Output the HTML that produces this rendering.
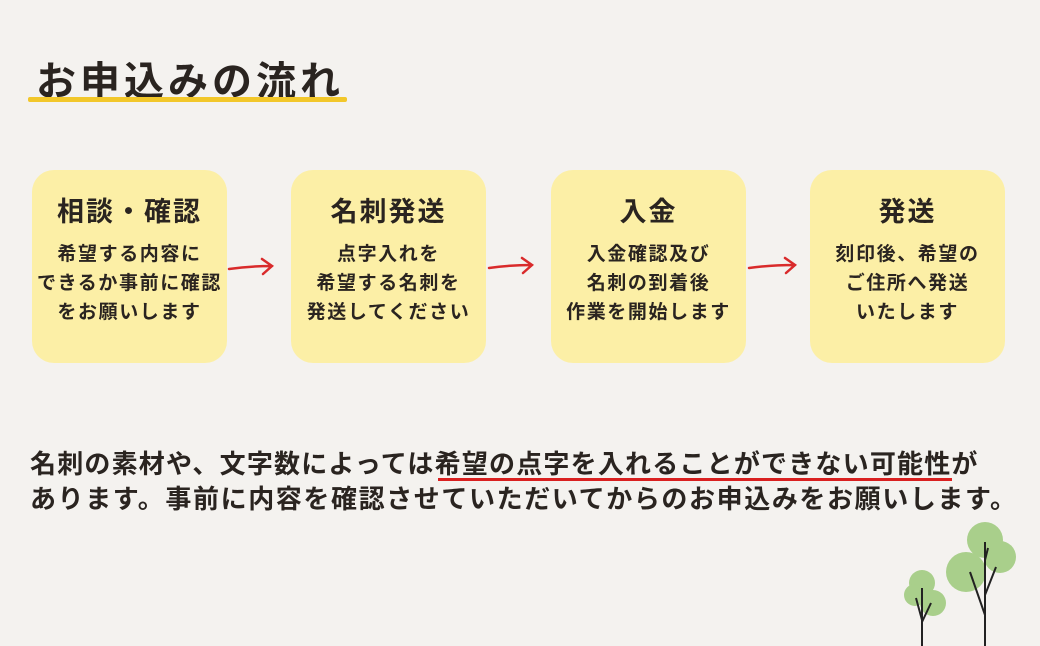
<!DOCTYPE html>
<html><head><meta charset="utf-8"><style>
body{margin:0;width:1040px;height:646px;background:#f4f2ef;position:relative;overflow:hidden;font-family:"Liberation Sans","Noto Sans CJK JP",sans-serif;color:#2a2420;font-weight:bold}
.t{position:absolute;left:36px;top:49px;font-size:40px;letter-spacing:4px;white-space:nowrap}
.ul{position:absolute;left:28px;top:97px;width:319px;height:5px;background:#f2c72a;border-radius:2px}
.box{position:absolute;top:170px;width:195px;height:193px;background:#fcefa6;border-radius:22px;text-align:center}
.box h{display:block;margin-top:20px;font-size:27px;letter-spacing:2px;height:40px;white-space:nowrap}
.box p{margin:10px 0 0;font-size:19px;letter-spacing:1.6px;line-height:29px;font-weight:bold;white-space:nowrap}
.bt{position:absolute;left:30px;font-size:26px;white-space:nowrap}
.red{position:absolute;left:438px;top:478px;width:514px;height:3px;background:#d92020}
</style></head><body>
<div class="t">お申込みの流れ</div><div class="ul"></div>
<div class="box" style="left:32px"><h>相談・確認</h><p>希望する内容に<br>できるか事前に確認<br>をお願いします</p></div>
<div class="box" style="left:291px"><h>名刺発送</h><p>点字入れを<br>希望する名刺を<br>発送してください</p></div>
<div class="box" style="left:551px"><h>入金</h><p>入金確認及び<br>名刺の到着後<br>作業を開始します</p></div>
<div class="box" style="left:810px"><h>発送</h><p>刻印後、希望の<br>ご住所へ発送<br>いたします</p></div>
<svg width="1040" height="646" style="position:absolute;left:0;top:0">
<g stroke="#d92b2b" stroke-width="2.5" fill="none" stroke-linecap="round">
<path d="M229 269 Q250 266 272 266 M262 259 L272 266 L263 274"/>
<path d="M489 268 Q510 265 532 265 M522 258 L532 265 L523 273"/>
<path d="M749 268 Q770 265 795 265 M785 258 L795 265 L786 273"/>
</g>
<g fill="#9cc97a" opacity="0.85">
<circle cx="922" cy="583" r="13"/><circle cx="933" cy="603" r="13"/><circle cx="915" cy="595" r="11"/>
<circle cx="985" cy="540" r="18"/><circle cx="1000" cy="557" r="16"/><circle cx="966" cy="572" r="20"/>
</g>
<g stroke="#222" stroke-width="2" fill="none">
<path d="M922 588 L922 646 M922 620 L916 598 M922 622 L931 603"/>
<path d="M985 542 L985 646 M985 615 L970 572 M985 595 L996 567 M985 560 L988 548"/>
</g>
</svg>
<div class="bt" style="top:444px;letter-spacing:1.2px">名刺の素材や、文字数によっては希望の点字を入れることができない可能性が</div>
<div class="red"></div>
<div class="bt" style="top:479px;letter-spacing:1.6px">あります。事前に内容を確認させていただいてからのお申込みをお願いします。</div>
</body></html>
